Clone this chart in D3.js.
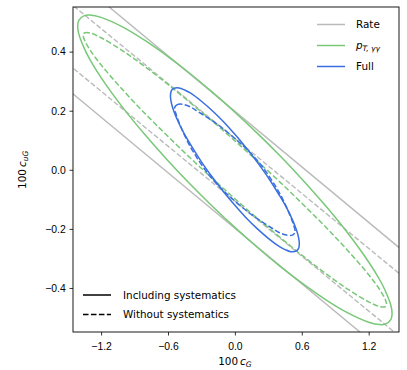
<!DOCTYPE html>
<html>
<head>
<meta charset="utf-8">
<script src="https://cdn.jsdelivr.net/npm/d3@7/dist/d3.min.js"></script>
<style>
  body { margin: 0; background: #fff; }
  svg { font-family: "DejaVu Sans", sans-serif; }
  .axis text { font-size: 10.4px; fill: #000; }
  .axis path, .axis line { stroke: #000; stroke-width: 0.8; }
</style>
</head>
<body>
<svg width="407" height="370"></svg>
<script>
// ticks and limits
var xTicks = [-1.2, -0.6, 0.0, 0.6, 1.2];
var yTicks = [-0.4, -0.2, 0.0, 0.2, 0.4];
var xLimits = [-1.452, 1.472];
var yLimits = [-0.549, 0.551];

// rate-only band (two parallel lines each)
var rateSyst   = [[[-1.6, 0.699], [1.6, -0.303]], [[-1.6, 0.303], [1.6, -0.699]]];
var rateNoSyst = [[[-1.6, 0.602], [1.6, -0.390]], [[-1.6, 0.390], [1.6, -0.602]]];

// pT,yy contours
var ptSyst = [
  [-1.410, 0.487], [-1.400, 0.506], [-1.350, 0.522], [-1.300, 0.524], [-1.200, 0.516], [-1.000, 0.482],
  [-0.800, 0.436], [-0.600, 0.383], [-0.400, 0.325], [-0.200, 0.262], [0.000, 0.195], [0.200, 0.124],
  [0.400, 0.049], [0.600, -0.031], [0.800, -0.116], [1.000, -0.208], [1.200, -0.312], [1.300, -0.373],
  [1.350, -0.410], [1.400, -0.460],
  [1.410, -0.487], [1.400, -0.506], [1.350, -0.522], [1.300, -0.524], [1.200, -0.516], [1.000, -0.482],
  [0.800, -0.436], [0.600, -0.383], [0.400, -0.325], [0.200, -0.262], [0.000, -0.195], [-0.200, -0.124],
  [-0.400, -0.049], [-0.600, 0.031], [-0.800, 0.116], [-1.000, 0.208], [-1.200, 0.312], [-1.300, 0.373],
  [-1.350, 0.410], [-1.400, 0.460]
];
var ptNoSyst = [
  [-1.360, 0.455], [-1.350, 0.463], [-1.300, 0.463], [-1.200, 0.447], [-1.000, 0.401], [-0.800, 0.347],
  [-0.600, 0.289], [-0.400, 0.227], [-0.200, 0.164], [0.000, 0.098], [0.200, 0.030], [0.400, -0.040],
  [0.600, -0.113], [0.800, -0.188], [1.000, -0.268], [1.200, -0.355], [1.300, -0.406], [1.350, -0.440],
  [1.360, -0.455], [1.350, -0.463], [1.300, -0.463], [1.200, -0.447], [1.000, -0.401], [0.800, -0.347],
  [0.600, -0.289], [0.400, -0.227], [0.200, -0.164], [0.000, -0.098], [-0.200, -0.030], [-0.400, 0.040],
  [-0.600, 0.113], [-0.800, 0.188], [-1.000, 0.268], [-1.200, 0.355], [-1.300, 0.406], [-1.350, 0.440]
];

// full analysis contours
var fullSyst = [
  [-0.578, 0.250], [-0.570, 0.267], [-0.550, 0.275], [-0.500, 0.277], [-0.450, 0.270], [-0.400, 0.260],
  [-0.300, 0.232], [-0.200, 0.199], [-0.100, 0.162], [0.000, 0.120], [0.100, 0.075], [0.200, 0.026],
  [0.300, -0.027], [0.400, -0.087], [0.450, -0.119], [0.500, -0.156], [0.550, -0.201], [0.570, -0.227],
  [0.578, -0.250], [0.570, -0.267], [0.550, -0.275], [0.500, -0.277], [0.450, -0.270], [0.400, -0.260],
  [0.300, -0.232], [0.200, -0.199], [0.100, -0.162], [0.000, -0.120], [-0.100, -0.075], [-0.200, -0.026],
  [-0.300, 0.027], [-0.400, 0.087], [-0.450, 0.119], [-0.500, 0.156], [-0.550, 0.201], [-0.570, 0.227]
];
var fullNoSyst = [
  [-0.540, 0.211], [-0.520, 0.220], [-0.475, 0.222], [-0.400, 0.213], [-0.330, 0.197], [-0.150, 0.152],
  [0.030, 0.096], [0.120, 0.064], [0.210, 0.028], [0.300, -0.018], [0.375, -0.062], [0.430, -0.100],
  [0.490, -0.150], [0.525, -0.185], [0.540, -0.211],
  [0.520, -0.220], [0.475, -0.222], [0.400, -0.213], [0.330, -0.197], [0.150, -0.152],
  [-0.030, -0.096], [-0.120, -0.064], [-0.210, -0.028], [-0.300, 0.018], [-0.375, 0.062], [-0.430, 0.100],
  [-0.490, 0.150], [-0.525, 0.185]
];

var gray = "#bababa", green = "#78c878", blue = "#3a6fe0";

var svg = d3.select("svg"),
    margin = {top: 7, right: 8, bottom: 38, left: 73},
    width = +svg.attr("width") - margin.left - margin.right,
    height = +svg.attr("height") - margin.top - margin.bottom,
    g = svg.append("g").attr("transform", "translate(" + margin.left + "," + margin.top + ")");

var x = d3.scaleLinear().domain(xLimits).range([0, width]);
var y = d3.scaleLinear().domain(yLimits).range([height, 0]);

svg.append("defs").append("clipPath").attr("id", "clip")
  .append("rect").attr("width", width).attr("height", height);

var plot = g.append("g").attr("clip-path", "url(#clip)");

var line = d3.line().x(function(d) { return x(d[0]); }).y(function(d) { return y(d[1]); });
var contourLine = d3.line().x(function(d) { return x(d[0]); }).y(function(d) { return y(d[1]); })
  .curve(d3.curveCatmullRomClosed.alpha(0.5));

function dashes(lw) { return (3.7 * lw) + "," + (1.6 * lw); }

rateSyst.forEach(function(l) {
  plot.append("path").attr("d", line(l)).attr("fill", "none")
    .attr("stroke", gray).attr("stroke-width", 1.4);
});
rateNoSyst.forEach(function(l) {
  plot.append("path").attr("d", line(l)).attr("fill", "none")
    .attr("stroke", gray).attr("stroke-width", 1.4).attr("stroke-dasharray", dashes(1.4));
});

plot.append("path").attr("d", contourLine(ptSyst)).attr("fill", "none")
  .attr("stroke", green).attr("stroke-width", 1.5);
plot.append("path").attr("d", contourLine(ptNoSyst)).attr("fill", "none")
  .attr("stroke", green).attr("stroke-width", 1.5).attr("stroke-dasharray", dashes(1.5));

plot.append("path").attr("d", contourLine(fullSyst)).attr("fill", "none")
  .attr("stroke", blue).attr("stroke-width", 1.5);
plot.append("path").attr("d", contourLine(fullNoSyst)).attr("fill", "none")
  .attr("stroke", blue).attr("stroke-width", 1.5).attr("stroke-dasharray", dashes(1.5));

// frame
g.append("rect").attr("width", width).attr("height", height)
  .attr("fill", "none").attr("stroke", "#000").attr("stroke-width", 0.9);

var fmt = function(d) { return d3.format(".1f")(d).replace("-", "\u2212"); };

g.append("g").attr("class", "axis")
  .attr("transform", "translate(0," + height + ")")
  .call(d3.axisBottom(x).tickValues(xTicks).tickFormat(fmt).tickSize(3.5).tickPadding(7.5).tickSizeOuter(0))
  .call(function(a) { a.select(".domain").remove(); });

g.append("g").attr("class", "axis")
  .call(d3.axisLeft(y).tickValues(yTicks).tickFormat(fmt).tickSize(3.5).tickPadding(3.8).tickSizeOuter(0))
  .call(function(a) { a.select(".domain").remove(); });

// axis labels
var xl = svg.append("text").attr("x", margin.left + x(0)).attr("y", 365)
  .attr("text-anchor", "middle").attr("font-size", "10.4px");
xl.append("tspan").text("100\u2009");
xl.append("tspan").attr("font-style", "italic").text("c");
xl.append("tspan").attr("font-style", "italic").attr("font-size", "7.5px").attr("dy", 2).text("G");

var yl = svg.append("text").attr("transform", "translate(26," + (margin.top + y(0)) + ") rotate(-90)")
  .attr("text-anchor", "middle").attr("font-size", "10.4px");
yl.append("tspan").text("100\u2009");
yl.append("tspan").attr("font-style", "italic").text("c");
yl.append("tspan").attr("font-style", "italic").attr("font-size", "7.5px").attr("dy", 2).text("uG");

// legend: analyses
var legA = [
  {label: "Rate", color: gray},
  {label: "p", sub: "T, \u03b3\u03b3", color: green},
  {label: "Full", color: blue}
];
var la = svg.append("g").attr("transform", "translate(317,24.5)");
legA.forEach(function(d, i) {
  var row = la.append("g").attr("transform", "translate(0," + (i * 21) + ")");
  row.append("line").attr("x1", 0).attr("x2", 28).attr("stroke", d.color).attr("stroke-width", 1.5);
  var t = row.append("text").attr("x", 39).attr("y", 3.8).attr("font-size", "10.4px");
  if (d.sub) {
    t.append("tspan").attr("font-style", "italic").text(d.label);
    t.append("tspan").attr("font-style", "italic").attr("font-size", "7.5px").attr("dy", 2).text(d.sub);
  } else {
    t.text(d.label);
  }
});

// legend: systematics
var legB = [
  {label: "Including systematics", dash: null},
  {label: "Without systematics", dash: dashes(1.5)}
];
var lb = svg.append("g").attr("transform", "translate(83,295)");
legB.forEach(function(d, i) {
  var row = lb.append("g").attr("transform", "translate(0," + (i * 19.5) + ")");
  row.append("line").attr("x1", 0).attr("x2", 28).attr("stroke", "#000").attr("stroke-width", 1.5)
    .attr("stroke-dasharray", d.dash);
  row.append("text").attr("x", 40).attr("y", 3.8).attr("font-size", "10.4px").text(d.label);
});
</script>
</body>
</html>
